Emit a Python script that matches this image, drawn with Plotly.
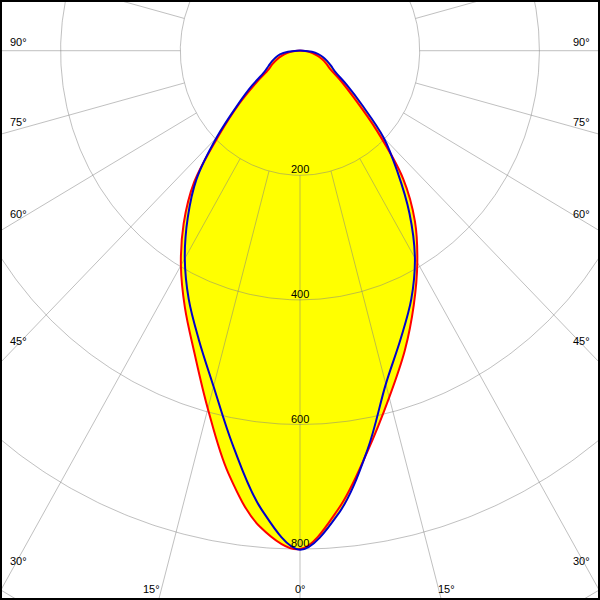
import numpy as np
import plotly.graph_objects as go

# Vertical angle gamma (degrees, 0 = straight down)
gamma = [0, 5, 10, 15, 20, 25, 30, 35, 40, 45, 50, 55, 60, 65, 70, 75, 80, 85, 90]

# Luminous intensity (cd) per plane
c0_left = [800, 767, 689, 595, 516, 455, 398, 339, 275, 191, 133, 89, 61, 51, 41, 31, 22, 12, 3]
c180_right = [800, 738, 652, 576, 512, 450, 392, 335, 268, 182, 118, 82, 58, 48, 39, 30, 21, 12, 3]
c90_left = [801, 739, 644, 558, 494, 440, 385, 327, 269, 197, 137, 98, 69, 58, 50, 42, 34, 20, 5]
c270_right = [801, 745, 650, 554, 492, 440, 384, 319, 253, 198, 135, 95, 68, 57, 48, 40, 31, 20, 5]

ring_values = [200, 400, 600, 800, 1000, 1200]
ring_labels = ["200", "400", "600", "800"]
spoke_angles = list(range(0, 360, 15))

side_labels = ["90°", "75°", "60°", "45°", "30°"]
side_label_py = [42, 122, 214, 341, 561]
bottom_labels = ["15°", "0°", "15°"]
bottom_label_px = [151, 300, 446]


def curve(left, right):
    g = np.radians(np.array(gamma, dtype=float))
    L = np.array(left, dtype=float)
    R = np.array(right, dtype=float)
    xl = -L * np.sin(g)
    yl = -L * np.cos(g)
    xr = R * np.sin(g)
    yr = -R * np.cos(g)
    x = np.concatenate([xl[::-1], xr[1:], xl[-1:]])
    y = np.concatenate([yl[::-1], yr[1:], yl[-1:]])
    return x, y


rx, ry = curve(c0_left, c180_right)
bx, by = curve(c90_left, c270_right)

fig = go.Figure()

# yellow fills
for x, y in [(rx, ry), (bx, by)]:
    fig.add_trace(go.Scatter(x=x, y=y, mode="lines", fill="toself",
                             fillcolor="#ffff00",
                             line=dict(width=0, color="#ffff00", shape="spline", smoothing=1),
                             hoverinfo="skip", showlegend=False))

# grid rings
t = np.radians(np.linspace(0, 360, 721))
gx, gy = [], []
for r in ring_values:
    gx += list(r * np.sin(t)) + [None]
    gy += list(-r * np.cos(t)) + [None]
# spokes
for a in spoke_angles:
    ar = np.radians(a)
    gx += [200 * np.sin(ar), 2000 * np.sin(ar), None]
    gy += [-200 * np.cos(ar), -2000 * np.cos(ar), None]
fig.add_trace(go.Scatter(x=gx, y=gy, mode="lines",
                         line=dict(color="rgba(130,130,130,0.5)", width=1),
                         hoverinfo="skip", showlegend=False))

# curves
fig.add_trace(go.Scatter(x=rx, y=ry, mode="lines",
                         line=dict(color="#ff0000", width=2, shape="spline", smoothing=1),
                         hoverinfo="skip", showlegend=False))
fig.add_trace(go.Scatter(x=bx, y=by, mode="lines",
                         line=dict(color="#0000cc", width=2, shape="spline", smoothing=1),
                         hoverinfo="skip", showlegend=False))

annotations = []
font = dict(family="Liberation Sans, Arial, sans-serif", size=11, color="black")
for lab, val in zip(ring_labels, ring_values):
    annotations.append(dict(x=0, y=-val, xref="x", yref="y", text=lab, showarrow=False,
                            yshift=6, font=font, xanchor="center", yanchor="middle"))
for lab, py in zip(side_labels, side_label_py):
    for px in (18, 581):
        annotations.append(dict(x=px / 600, y=1 - py / 600, xref="paper", yref="paper",
                                text=lab, showarrow=False, font=font,
                                xanchor="center", yanchor="middle"))
for lab, px in zip(bottom_labels, bottom_label_px):
    annotations.append(dict(x=px / 600, y=1 - 589 / 600, xref="paper", yref="paper",
                            text=lab, showarrow=False, font=font,
                            xanchor="center", yanchor="middle"))

fig.update_layout(
    width=600, height=600,
    margin=dict(l=0, r=0, t=0, b=0),
    paper_bgcolor="white", plot_bgcolor="white",
    xaxis=dict(range=[-501.3, 501.3], visible=False, fixedrange=True),
    yaxis=dict(range=[-881.7, 81.4], visible=False, fixedrange=True),
    annotations=annotations,
    shapes=[dict(type="rect", xref="paper", yref="paper", x0=0, y0=0, x1=1, y1=1,
                 line=dict(color="black", width=4))],
    hovermode=False,
    showlegend=False,
)

fig.write_html(
    "out.html",
    config={"displayModeBar": False},
    post_script="document.body.style.margin='0';document.body.style.overflow='hidden';",
)
